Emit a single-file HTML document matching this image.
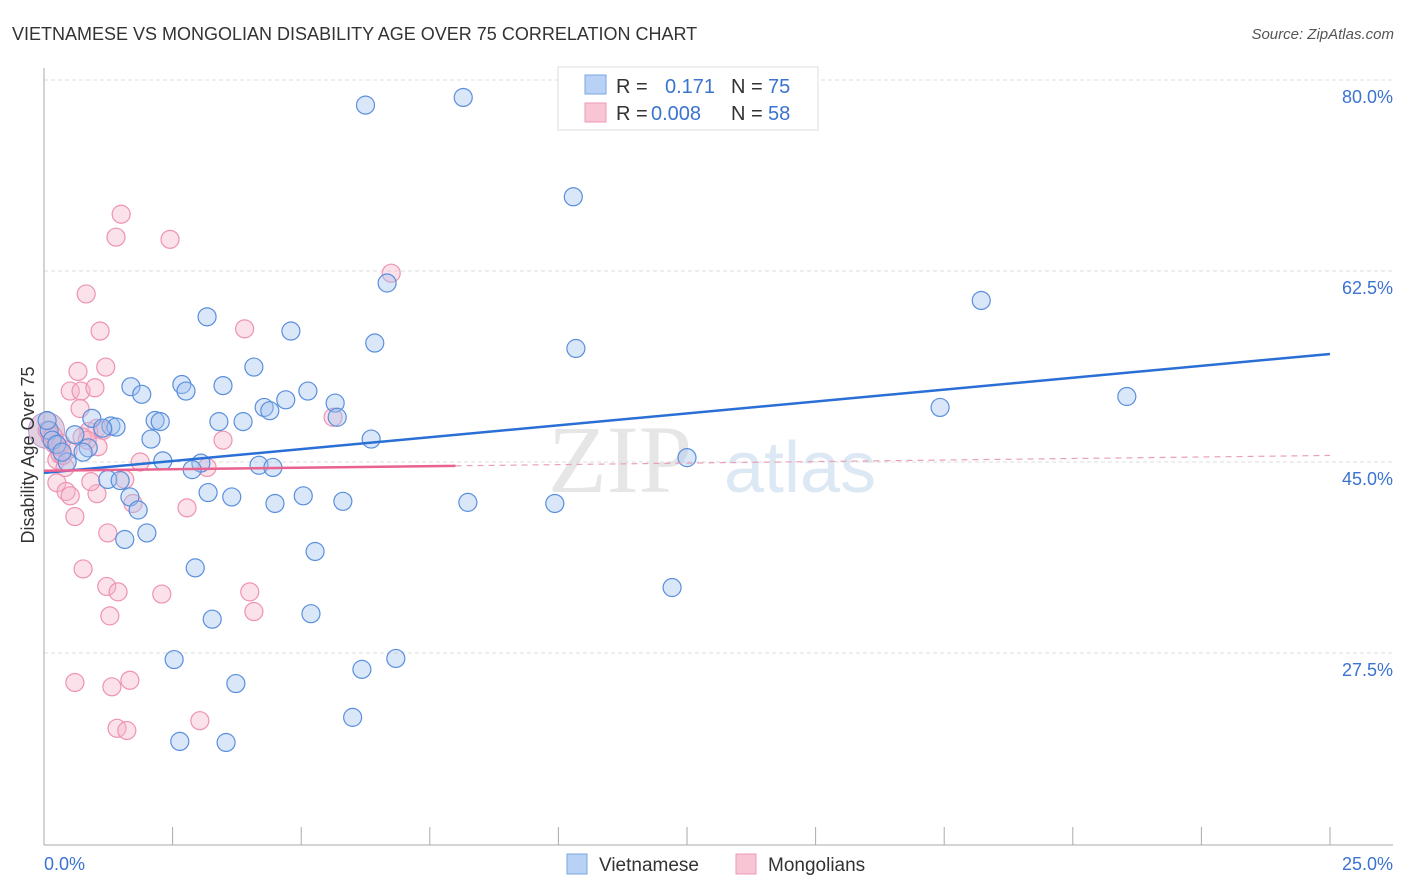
<!DOCTYPE html>
<html><head><meta charset="utf-8"><style>
body{margin:0;background:#fff;font-family:"Liberation Sans",sans-serif;}
svg{display:block}
</style></head><body>
<svg id="chart" width="1406" height="892">
<text x="12" y="40" font-size="18" fill="#333">VIETNAMESE VS MONGOLIAN DISABILITY AGE OVER 75 CORRELATION CHART</text>
<text x="1394" y="39" font-size="15" fill="#555" font-style="italic" text-anchor="end">Source: ZipAtlas.com</text>
<text x="620" y="492" font-size="96" fill="#e6e6e6" font-family="Liberation Serif,serif" text-anchor="middle">ZIP</text>
<text x="800" y="492" font-size="72" fill="#dde8f5" text-anchor="middle">atlas</text>
<g id="grid"></g>
<g id="axes"></g>
<g id="pts"></g>
<g id="trend"></g>
<text transform="translate(34,455) rotate(-90)" font-size="18" fill="#333" text-anchor="middle">Disability Age Over 75</text>
<g>
<rect x="558" y="67" width="260" height="63" fill="#fff" stroke="#ddd"/>
<rect x="585" y="75" width="21" height="19" fill="#b8d2f5" stroke="#7aa5e0"/>
<rect x="585" y="103" width="21" height="19" fill="#f8c5d5" stroke="#ec9ab4"/>
<text x="616" y="93" font-size="20" fill="#333">R = </text>
<text x="665" y="93" font-size="20" fill="#3b73d1">0.171</text>
<text x="731" y="93" font-size="20" fill="#333">N = </text>
<text x="768" y="93" font-size="20" fill="#3b73d1">75</text>
<text x="616" y="120" font-size="20" fill="#333">R = </text>
<text x="651" y="120" font-size="20" fill="#3b73d1">0.008</text>
<text x="731" y="120" font-size="20" fill="#333">N = </text>
<text x="768" y="120" font-size="20" fill="#3b73d1">58</text>
</g>
<g>
<rect x="567" y="854" width="20" height="20" fill="#b8d2f5" stroke="#7aa5e0"/>
<text x="599" y="871" font-size="19" fill="#333">Vietnamese</text></g>
<g>
<rect x="736" y="854" width="20" height="20" fill="#f8c5d5" stroke="#ec9ab4"/>
<text x="768" y="871" font-size="19" fill="#333">Mongolians</text></g>
</svg>
<script>
const yTicks=[80,62.5,45,27.5];
const yTickLabels=["80.0%","62.5%","45.0%","27.5%"];
const xTickLabels=["0.0%","25.0%"];
const blueX=[6.25,8.15,10.29,6.67,18.22,3.17,4.8,6.43,10.34,4.08,1.69,2.68,3.48,1.9,2.76,5.13,4.7,5.66,4.28,4.39,17.42,21.05,5.7,0.93,2.16,2.26,3.4,3.87,1.3,1.4,1.14,0.6,2.08,6.36,0.86,0.76,0.45,2.31,3.05,2.88,4.18,4.45,12.5,1.24,1.48,3.19,3.65,5.04,5.81,8.24,9.93,4.49,1.67,1.83,1.57,2.0,5.27,2.94,12.21,5.19,3.27,2.53,6.18,6.84,3.73,6.0,2.64,3.54,0.1,0.16,0.25,0.35,0.06];
const blueY=[77.7,78.4,69.3,61.4,59.8,58.3,57.0,55.9,55.4,53.7,51.9,52.1,52.0,51.2,51.5,51.5,50.7,50.4,50.0,49.7,50.0,51.0,49.1,49.0,48.8,48.7,48.7,48.7,48.3,48.2,48.1,47.5,47.1,47.1,46.3,45.9,45.0,45.1,44.9,44.3,44.7,44.5,45.4,43.4,43.3,42.2,41.8,41.9,41.4,41.3,41.2,41.2,41.8,40.6,37.9,38.5,36.8,35.3,33.5,31.1,30.6,26.9,26.0,27.0,24.7,21.6,19.4,19.3,47.9,47.0,46.6,45.9,48.8];
const pinkX=[1.5,1.4,2.45,6.75,0.82,1.09,3.9,0.66,1.2,0.51,0.72,0.99,0.7,5.62,1.03,0.87,1.15,3.48,1.05,0.74,0.84,1.87,3.17,0.25,0.31,0.21,0.12,0.41,0.25,0.43,0.51,1.03,0.91,1.57,1.73,2.78,0.6,1.24,0.76,1.22,1.44,2.29,4.0,1.28,4.08,0.6,1.32,1.67,1.42,1.61,3.03,0.06,0.16,0.29,0.37,0.18,0.33,0.47];
const pinkY=[67.7,65.6,65.4,62.3,60.4,57.0,57.2,53.3,53.7,51.5,51.5,51.8,49.9,49.1,48.1,47.8,47.9,47.0,46.4,47.3,47.0,45.0,44.5,45.2,45.7,46.6,47.3,44.5,43.1,42.3,41.9,42.1,43.2,43.4,41.2,40.8,40.0,38.5,35.2,33.6,33.1,32.9,33.1,30.9,31.3,24.8,24.4,25.0,20.6,20.4,21.3,47.9,47.0,46.4,45.6,47.4,46.7,46.1];
const blueTrend=[44.0,54.9];   // value at x=0 and x=25
const pinkTrend=[44.2,45.6];
const pinkSolidEnd=8.0;
const X=v=>44+v/25*1286, Y=v=>80+(80-v)/17.5*191;
const NS="http://www.w3.org/2000/svg";
function mk(tag,attrs,parent){const e=document.createElementNS(NS,tag);for(const k in attrs)e.setAttribute(k,attrs[k]);document.getElementById(parent).appendChild(e);return e;}
yTicks.forEach((t,i)=>{
 const l=mk('line',{x1:44,x2:1393,y1:Y(t),y2:Y(t),stroke:'#ddd','stroke-dasharray':'4,3'},'grid');
 
 
 const tx=mk('text',{x:1393,y:Y(t)+23,'font-size':18,fill:'#3b73d1','text-anchor':'end'},'grid');tx.textContent=yTickLabels[i];
 
 
});
let a=mk('line',{x1:44,x2:44,y1:68,y2:845,stroke:'#aaa'},'axes');


a=mk('line',{x1:44,x2:1393,y1:845,y2:845,stroke:'#aaa'},'axes');


for(let i=0;i<=10;i++){const x=44+i*128.6;const t=mk('line',{x1:x,x2:x,y1:827,y2:845,stroke:'#aaa'},'axes');
 
 }
[[0,'start',44],[1,'end',1393]].forEach(([i,an,x])=>{const t=mk('text',{x:x,y:870,'font-size':18,fill:'#3b73d1','text-anchor':an},'axes');t.textContent=xTickLabels[i];
 
 });
const big=mk('circle',{cx:X(0.05),cy:Y(47.9),r:18,fill:'rgba(190,150,190,0.45)',stroke:'#b89ac8'},'pts');


pinkX.forEach((v,i)=>{const c=mk('circle',{cx:X(v),cy:Y(pinkY[i]),r:9,fill:'rgba(246,180,200,0.4)',stroke:'#ee93b1','stroke-width':1.2},'pts');
 
 });
blueX.forEach((v,i)=>{const c=mk('circle',{cx:X(v),cy:Y(blueY[i]),r:9,fill:'rgba(160,195,240,0.4)',stroke:'#5a8fdd','stroke-width':1.2},'pts');
 
 });
let t=mk('line',{x1:X(0),y1:Y(blueTrend[0]),x2:X(25),y2:Y(blueTrend[1]),stroke:'#2a6fd6','stroke-width':2.5},'trend');


const pe=pinkTrend[0]+(pinkTrend[1]-pinkTrend[0])*pinkSolidEnd/25;
t=mk('line',{x1:X(0),y1:Y(pinkTrend[0]),x2:X(pinkSolidEnd),y2:Y(pe),stroke:'#e8638f','stroke-width':2.5},'trend');


t=mk('line',{x1:X(pinkSolidEnd),y1:Y(pe),x2:X(25),y2:Y(pinkTrend[1]),stroke:'#e8a0b8','stroke-width':1.2,'stroke-dasharray':'6,5'},'trend');


</script>
</body></html>
